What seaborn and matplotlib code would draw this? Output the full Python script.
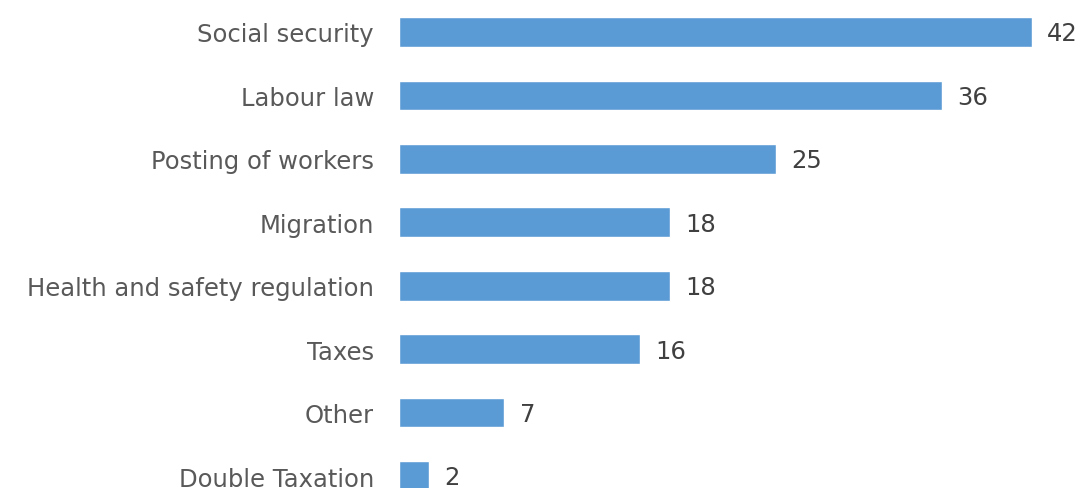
import matplotlib
matplotlib.use("Agg")
import matplotlib.pyplot as plt
import seaborn as sns
import pandas as pd

categories = ["Social security", "Labour law", "Posting of workers", "Migration",
              "Health and safety regulation", "Taxes", "Other", "Double Taxation"]
values = [42, 36, 25, 18, 18, 16, 7, 2]

df = pd.DataFrame({"category": categories, "value": values})

sns.set_theme(style="white")
plt.rcParams["font.family"] = ["DejaVu Sans"]

W, H = 1082, 489
fig = plt.figure(figsize=(W / 100, H / 100), dpi=100)
left = 399 / W
px_per_unit = 15.07
xmax = 45
ax = fig.add_axes([left, 0, xmax * px_per_unit / W, 1])

sns.barplot(data=df, x="value", y="category", orient="h", color="#5B9BD5",
            saturation=1, width=0.47, ax=ax)

spacing = 63.43
ax.set_xlim(0, xmax)
ax.set_ylim(7 + 12 / spacing, -33 / spacing)

for i, v in enumerate(values):
    ax.annotate(str(v), xy=(v, i), xytext=(11, -1), textcoords="offset points",
                va="center", ha="left", fontsize=17.5, color="#404040")

ax.set_xlabel("")
ax.set_ylabel("")
ax.set_xticks([])
ax.tick_params(axis="y", length=0, pad=18, labelsize=17.5, labelcolor="#595959")
for s in ax.spines.values():
    s.set_visible(False)

fig.savefig("out.png", dpi=100)
